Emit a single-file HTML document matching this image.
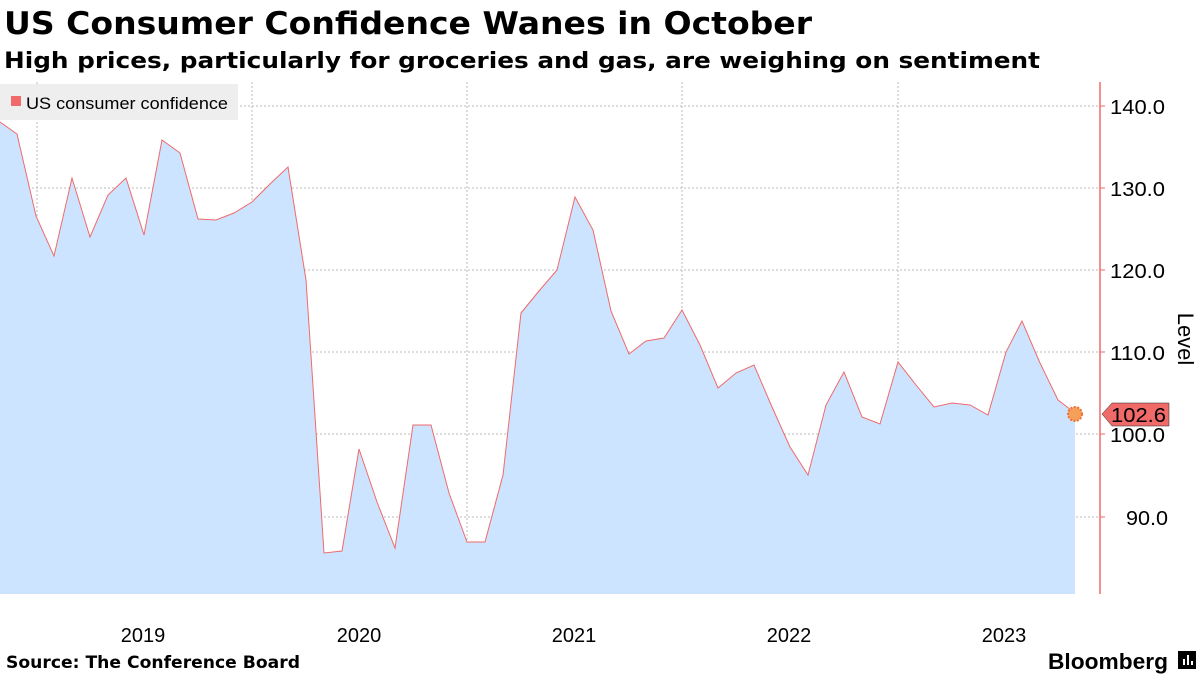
<!DOCTYPE html>
<html><head><style>
body{margin:0;background:#fff;width:1200px;height:675px;overflow:hidden;font-family:"Liberation Sans",sans-serif}
</style></head><body>
<svg width="1200" height="675" xmlns="http://www.w3.org/2000/svg">
<text x="4" y="34" font-family="DejaVu Sans" font-weight="bold" font-size="31" fill="#000" textLength="808" lengthAdjust="spacingAndGlyphs">US Consumer Confidence Wanes in October</text>
<text x="4" y="68" font-family="DejaVu Sans" font-weight="bold" font-size="22" fill="#000" textLength="1036" lengthAdjust="spacingAndGlyphs">High prices, particularly for groceries and gas, are weighing on sentiment</text>
<g stroke="#bbb" stroke-dasharray="2,2" stroke-width="1">
<line x1="0" x2="1100" y1="106" y2="106"/><line x1="0" x2="1100" y1="188" y2="188"/><line x1="0" x2="1100" y1="270" y2="270"/><line x1="0" x2="1100" y1="352" y2="352"/><line x1="0" x2="1100" y1="434" y2="434"/><line x1="0" x2="1100" y1="517" y2="517"/>
<line x1="37" x2="37" y1="82" y2="594"/><line x1="252" x2="252" y1="82" y2="594"/><line x1="467" x2="467" y1="82" y2="594"/><line x1="682" x2="682" y1="82" y2="594"/><line x1="898" x2="898" y1="82" y2="594"/>
</g>
<polygon fill="#cce4ff" points="0,594 0,122 17,134 36,216 54,256 72,178 90,237 108,195 126,178 144,235 162,140 180,153 198,219 216,220 234,213 252,202 270,184 288,167 306,280 324,553 342,551 359,449 377,502 395,548 413,425 431,425 449,493 467,542 485,542 503,475 521,313 539,291 557,270 575,197 593,230 611,311 629,354 646,341 664,338 682,310 700,345 718,388 736,373 754,365 772,407 790,447 808,475 826,405 844,372 862,417 880,424 898,362 916,385 934,407 952,403 970,405 988,415 1006,352 1022,321 1040,363 1058,400 1075,413 1075,594"/>
<polyline fill="none" stroke="#f06a6a" stroke-width="1" points="0,122 17,134 36,216 54,256 72,178 90,237 108,195 126,178 144,235 162,140 180,153 198,219 216,220 234,213 252,202 270,184 288,167 306,280 324,553 342,551 359,449 377,502 395,548 413,425 431,425 449,493 467,542 485,542 503,475 521,313 539,291 557,270 575,197 593,230 611,311 629,354 646,341 664,338 682,310 700,345 718,388 736,373 754,365 772,407 790,447 808,475 826,405 844,372 862,417 880,424 898,362 916,385 934,407 952,403 970,405 988,415 1006,352 1022,321 1040,363 1058,400 1075,413"/>
<circle cx="1075" cy="414" r="7" fill="#f5a05a" stroke="#f07030" stroke-dasharray="2,1.5" stroke-width="2"/>
<line x1="1100" x2="1100" y1="82" y2="594" stroke="#f06a6a" stroke-width="1.5"/>
<g stroke="#f06a6a"><line x1="1100" x2="1105" y1="106" y2="106"/><line x1="1100" x2="1105" y1="188" y2="188"/><line x1="1100" x2="1105" y1="270" y2="270"/><line x1="1100" x2="1105" y1="352" y2="352"/><line x1="1100" x2="1105" y1="434" y2="434"/><line x1="1100" x2="1105" y1="517" y2="517"/></g>
<g font-size="20" fill="#000">
<text x="1110" y="114" textLength="55" lengthAdjust="spacingAndGlyphs">140.0</text><text x="1110" y="196" textLength="55" lengthAdjust="spacingAndGlyphs">130.0</text><text x="1110" y="278" textLength="55" lengthAdjust="spacingAndGlyphs">120.0</text><text x="1110" y="360" textLength="55" lengthAdjust="spacingAndGlyphs">110.0</text><text x="1110" y="442" textLength="55" lengthAdjust="spacingAndGlyphs">100.0</text><text x="1126" y="525" textLength="42" lengthAdjust="spacingAndGlyphs">90.0</text>
</g>
<polygon points="1102,414 1112,403 1169,403 1169,426 1112,426" fill="#f06a6a" stroke="#222" stroke-width="0.5"/>
<text x="1111" y="422" font-size="20" fill="#000" textLength="55" lengthAdjust="spacingAndGlyphs">102.6</text>
<text transform="translate(1178,339) rotate(90)" font-size="22" text-anchor="middle" fill="#000">Level</text>
<rect x="0" y="84" width="238" height="36" fill="#eee"/>
<rect x="11" y="96" width="10" height="10" fill="#f06a6a"/>
<text x="26" y="109" font-size="17" fill="#000" textLength="202" lengthAdjust="spacingAndGlyphs">US consumer confidence</text>
<g font-size="20" fill="#000" text-anchor="middle">
<text x="143" y="642">2019</text><text x="359" y="642">2020</text><text x="574" y="642">2021</text><text x="789" y="642">2022</text><text x="1004" y="642">2023</text>
</g>
<text x="6" y="668" font-family="DejaVu Sans" font-weight="bold" font-size="17" fill="#000" textLength="294" lengthAdjust="spacingAndGlyphs">Source: The Conference Board</text>
<text x="1048" y="669" font-weight="bold" font-size="22" fill="#000" textLength="120" lengthAdjust="spacingAndGlyphs">Bloomberg</text>
<rect x="1178" y="651" width="18" height="18" fill="#000"/>
<rect x="1183" y="659" width="2" height="6" fill="#fff"/><rect x="1187" y="655" width="2" height="10" fill="#fff"/><rect x="1191" y="661" width="2" height="4" fill="#fff"/>
</svg>
</body></html>
